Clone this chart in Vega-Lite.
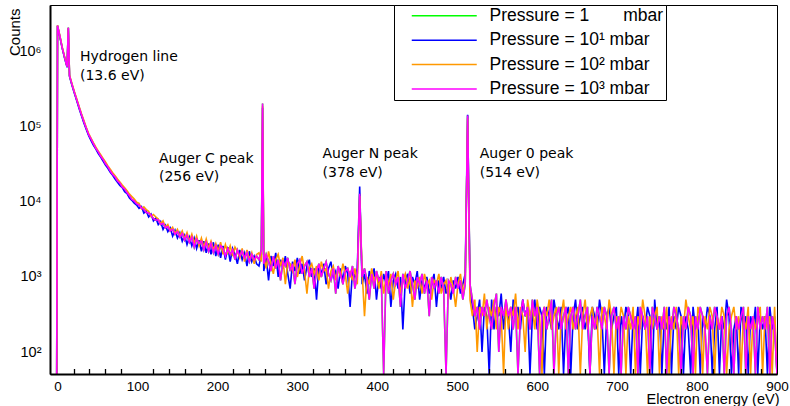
{
  "$schema": "https://vega.github.io/schema/vega-lite/v6.json",
  "width": 727,
  "height": 369,
  "autosize": {"type": "none"},
  "padding": {"left": 50, "top": 5, "right": 13, "bottom": 32},
  "background": "white",
  "config": {"view": {"stroke": "black", "strokeWidth": 1}, "font": "Liberation Sans"},
  "resolve": {"scale": {"x": "independent", "y": "independent"}, "axis": {"x": "independent", "y": "independent"}},
  "datasets": {
    "hist": [
      {"e":-1,"g":0,"b":0,"o":0,"m":0},
      {"e":0,"g":2240000,"b":2200000,"o":2250000,"m":2240000},
      {"e":3,"g":1600000,"b":1570000,"o":1630000,"m":1600000},
      {"e":6,"g":1120000,"b":1100000,"o":1140000,"m":1120000},
      {"e":9,"g":830000,"b":815000,"o":845000,"m":830000},
      {"e":12,"g":630000,"b":620000,"o":640000,"m":630000},
      {"e":13.5,"g":2100000,"b":2050000,"o":2080000,"m":2100000},
      {"e":15,"g":480000,"b":470000,"o":490000,"m":480000},
      {"e":18,"g":370000,"b":362000,"o":378000,"m":370000},
      {"e":21,"g":290000,"b":283000,"o":296000,"m":290000},
      {"e":24,"g":230000,"b":224000,"o":236000,"m":230000},
      {"e":27,"g":182000,"b":176000,"o":187000,"m":182000},
      {"e":30,"g":145000,"b":141000,"o":149000,"m":145000},
      {"e":33,"g":117000,"b":113000,"o":121000,"m":117000},
      {"e":36,"g":95500,"b":92000,"o":98000,"m":95500},
      {"e":39,"g":78500,"b":76500,"o":81500,"m":78500},
      {"e":42,"g":68500,"b":65500,"o":70500,"m":68500},
      {"e":45,"g":59500,"b":56500,"o":61000,"m":59500},
      {"e":48,"g":51500,"b":50500,"o":53500,"m":51500},
      {"e":51,"g":46500,"b":44000,"o":47500,"m":46500},
      {"e":54,"g":40500,"b":39500,"o":42500,"m":40500},
      {"e":57,"g":36800,"b":35000,"o":38000,"m":36800},
      {"e":60,"g":32200,"b":31000,"o":34000,"m":32200},
      {"e":63,"g":29300,"b":28000,"o":30200,"m":29300},
      {"e":66,"g":25800,"b":24800,"o":27200,"m":25800},
      {"e":69,"g":23200,"b":22600,"o":24500,"m":23200},
      {"e":72,"g":21500,"b":20100,"o":22300,"m":21500},
      {"e":75,"g":19000,"b":18300,"o":20200,"m":19000},
      {"e":78,"g":17800,"b":16600,"o":18400,"m":17800},
      {"e":81,"g":15700,"b":15500,"o":16800,"m":15700},
      {"e":84,"g":14800,"b":13700,"o":15400,"m":14800},
      {"e":87,"g":13200,"b":12900,"o":14100,"m":13200},
      {"e":90,"g":12100,"b":11300,"o":12700,"m":12100},
      {"e":93,"g":10800,"b":10500,"o":11800,"m":10800},
      {"e":96,"g":10300,"b":9600,"o":10900,"m":10300},
      {"e":99,"g":9400,"b":9100,"o":9900,"m":9400},
      {"e":102,"g":9100,"b":8200,"o":9600,"m":9100},
      {"e":105,"g":8300,"b":8700,"o":8100,"m":8300},
      {"e":108,"g":8000,"b":7100,"o":8600,"m":8000},
      {"e":111,"g":7200,"b":7600,"o":7900,"m":7200},
      {"e":114,"g":7100,"b":6300,"o":7500,"m":7100},
      {"e":117,"g":6700,"b":6900,"o":6400,"m":6700},
      {"e":120,"g":6000,"b":5600,"o":6800,"m":6000},
      {"e":123,"g":5700,"b":6100,"o":6300,"m":5700},
      {"e":126,"g":5800,"b":5000,"o":5900,"m":5800},
      {"e":129,"g":5000,"b":5500,"o":5100,"m":5000},
      {"e":132,"g":5200,"b":4300,"o":5600,"m":5200},
      {"e":135,"g":4500,"b":4900,"o":4600,"m":4500},
      {"e":138,"g":4700,"b":4000,"o":5000,"m":4700},
      {"e":141,"g":4100,"b":4500,"o":4200,"m":4100},
      {"e":144,"g":4300,"b":3500,"o":4600,"m":4300},
      {"e":147,"g":3700,"b":4200,"o":3800,"m":3700},
      {"e":150,"g":4000,"b":3300,"o":4300,"m":4000},
      {"e":153,"g":3400,"b":3900,"o":3500,"m":3400},
      {"e":156,"g":3800,"b":3000,"o":4100,"m":3800},
      {"e":159,"g":3100,"b":3600,"o":3200,"m":3100},
      {"e":162,"g":3600,"b":2700,"o":3900,"m":3600},
      {"e":165,"g":2900,"b":3400,"o":3000,"m":2900},
      {"e":168,"g":3400,"b":2600,"o":3700,"m":3400},
      {"e":171,"g":2500,"b":3300,"o":2800,"m":2500},
      {"e":174,"g":3200,"b":2400,"o":3500,"m":3200},
      {"e":177,"g":2800,"b":3100,"o":2600,"m":2800},
      {"e":180,"g":3000,"b":2200,"o":3300,"m":3000},
      {"e":183,"g":2300,"b":3000,"o":2500,"m":2300},
      {"e":186,"g":2900,"b":2100,"o":3200,"m":2900},
      {"e":189,"g":2200,"b":2800,"o":2400,"m":2200},
      {"e":192,"g":2800,"b":2000,"o":3000,"m":2800},
      {"e":195,"g":2100,"b":2900,"o":2300,"m":2100},
      {"e":198,"g":2600,"b":1900,"o":2800,"m":2600},
      {"e":201,"g":2000,"b":2700,"o":2200,"m":2000},
      {"e":204,"g":2600,"b":1800,"o":2900,"m":2600},
      {"e":207,"g":2400,"b":2600,"o":2000,"m":2400},
      {"e":210,"g":1900,"b":1700,"o":2700,"m":1900},
      {"e":213,"g":2400,"b":2500,"o":2100,"m":2400},
      {"e":216,"g":2000,"b":1600,"o":2600,"m":2000},
      {"e":219,"g":2300,"b":2400,"o":1900,"m":2300},
      {"e":222,"g":1700,"b":2000,"o":2500,"m":1700},
      {"e":225,"g":2300,"b":1500,"o":2200,"m":2300},
      {"e":228,"g":1900,"b":2300,"o":1800,"m":1900},
      {"e":231,"g":2200,"b":1700,"o":2400,"m":2200},
      {"e":234,"g":1800,"b":2100,"o":1600,"m":1800},
      {"e":237,"g":2100,"b":1400,"o":2300,"m":2100},
      {"e":240,"g":1600,"b":2200,"o":1700,"m":1600},
      {"e":243,"g":2000,"b":1600,"o":2100,"m":2000},
      {"e":246,"g":1700,"b":1900,"o":1500,"m":1700},
      {"e":249,"g":1900,"b":1500,"o":2000,"m":1900},
      {"e":252,"g":1700,"b":1400,"o":2100,"m":1700},
      {"e":255,"g":2300,"b":2000,"o":1600,"m":2300},
      {"e":256.5,"g":204000,"b":180000,"o":190000,"m":204000},
      {"e":258,"g":1500,"b":1200,"o":1900,"m":1500},
      {"e":261,"g":2000,"b":1800,"o":1300,"m":2000},
      {"e":264,"g":1600,"b":900,"o":2200,"m":1600},
      {"e":267,"g":1200,"b":1900,"o":1500,"m":1200},
      {"e":270,"g":1900,"b":1400,"o":1100,"m":1900},
      {"e":273,"g":1300,"b":2100,"o":1700,"m":1300},
      {"e":276,"g":1700,"b":1000,"o":2000,"m":1700},
      {"e":279,"g":900,"b":1700,"o":1400,"m":900},
      {"e":282,"g":1600,"b":1300,"o":1800,"m":1600},
      {"e":285,"g":1400,"b":1900,"o":800,"m":1400},
      {"e":288,"g":1800,"b":1100,"o":1600,"m":1800},
      {"e":291,"g":1200,"b":700,"o":1500,"m":1200},
      {"e":294,"g":1500,"b":1600,"o":1200,"m":1500},
      {"e":297,"g":800,"b":1200,"o":1700,"m":800},
      {"e":300,"g":1500,"b":1800,"o":1000,"m":1500},
      {"e":303,"g":1700,"b":1100,"o":1400,"m":1700},
      {"e":306,"g":1100,"b":1500,"o":1900,"m":1100},
      {"e":309,"g":1400,"b":900,"o":1200,"m":1400},
      {"e":312,"g":1600,"b":1400,"o":600,"m":1600},
      {"e":315,"g":1000,"b":1700,"o":1300,"m":1000},
      {"e":318,"g":1300,"b":1000,"o":1500,"m":1300},
      {"e":321,"g":700,"b":1300,"o":1100,"m":700},
      {"e":324,"g":1200,"b":500,"o":1400,"m":1200},
      {"e":327,"g":1500,"b":1400,"o":900,"m":1500},
      {"e":330,"g":1000,"b":1100,"o":1600,"m":1000},
      {"e":333,"g":1300,"b":1500,"o":1200,"m":1300},
      {"e":336,"g":1600,"b":800,"o":1300,"m":1600},
      {"e":339,"g":1100,"b":1300,"o":700,"m":1100},
      {"e":342,"g":900,"b":1600,"o":1200,"m":900},
      {"e":345,"g":1300,"b":1000,"o":1400,"m":1300},
      {"e":348,"g":600,"b":1200,"o":900,"m":600},
      {"e":351,"g":1400,"b":700,"o":1300,"m":1400},
      {"e":354,"g":1100,"b":1300,"o":1000,"m":1100},
      {"e":357,"g":800,"b":900,"o":1500,"m":800},
      {"e":360,"g":1200,"b":1400,"o":1100,"m":1200},
      {"e":363,"g":1300,"b":1100,"o":600,"m":1300},
      {"e":366,"g":1000,"b":400,"o":1200,"m":1000},
      {"e":369,"g":1400,"b":1200,"o":900,"m":1400},
      {"e":372,"g":700,"b":1000,"o":1300,"m":700},
      {"e":375,"g":1100,"b":1300,"o":800,"m":1100},
      {"e":378,"g":12800,"b":16000,"o":12000,"m":12800},
      {"e":381,"g":1000,"b":800,"o":1200,"m":1000},
      {"e":384,"g":1300,"b":1100,"o":300,"m":1300},
      {"e":387,"g":900,"b":600,"o":1000,"m":900},
      {"e":390,"g":500,"b":1200,"o":800,"m":500},
      {"e":393,"g":1100,"b":900,"o":1300,"m":1100},
      {"e":396,"g":700,"b":1300,"o":900,"m":700},
      {"e":399,"g":1200,"b":500,"o":1100,"m":1200},
      {"e":402,"g":900,"b":1000,"o":700,"m":900},
      {"e":405,"g":1000,"b":700,"o":1200,"m":1000},
      {"e":408,"g":0,"b":1100,"o":600,"m":0},
      {"e":411,"g":1200,"b":800,"o":1000,"m":1200},
      {"e":414,"g":600,"b":1200,"o":800,"m":600},
      {"e":417,"g":900,"b":400,"o":1100,"m":900},
      {"e":420,"g":1100,"b":900,"o":500,"m":1100},
      {"e":423,"g":800,"b":1100,"o":900,"m":800},
      {"e":426,"g":1000,"b":700,"o":1200,"m":1000},
      {"e":429,"g":400,"b":1000,"o":600,"m":400},
      {"e":432,"g":1100,"b":200,"o":900,"m":1100},
      {"e":435,"g":700,"b":900,"o":1100,"m":700},
      {"e":438,"g":900,"b":1100,"o":700,"m":900},
      {"e":441,"g":1200,"b":600,"o":1000,"m":1200},
      {"e":444,"g":800,"b":1000,"o":400,"m":800},
      {"e":447,"g":500,"b":800,"o":900,"m":500},
      {"e":450,"g":1000,"b":1200,"o":700,"m":1000},
      {"e":453,"g":800,"b":500,"o":1000,"m":800},
      {"e":456,"g":1100,"b":900,"o":600,"m":1100},
      {"e":459,"g":600,"b":700,"o":1100,"m":600},
      {"e":462,"g":900,"b":1000,"o":800,"m":900},
      {"e":465,"g":300,"b":600,"o":900,"m":300},
      {"e":468,"g":1000,"b":800,"o":500,"m":1000},
      {"e":471,"g":700,"b":1100,"o":900,"m":700},
      {"e":474,"g":900,"b":400,"o":800,"m":900},
      {"e":477,"g":600,"b":900,"o":1100,"m":600},
      {"e":480,"g":1000,"b":700,"o":600,"m":1000},
      {"e":483,"g":700,"b":1000,"o":800,"m":700},
      {"e":486,"g":0,"b":600,"o":900,"m":0},
      {"e":489,"g":900,"b":800,"o":500,"m":900},
      {"e":492,"g":800,"b":500,"o":1000,"m":800},
      {"e":495,"g":600,"b":900,"o":700,"m":600},
      {"e":498,"g":1000,"b":700,"o":400,"m":1000},
      {"e":501,"g":700,"b":1000,"o":800,"m":700},
      {"e":504,"g":900,"b":600,"o":1100,"m":900},
      {"e":507,"g":500,"b":800,"o":600,"m":500},
      {"e":510,"g":800,"b":1100,"o":900,"m":800},
      {"e":513,"g":142000,"b":145000,"o":130000,"m":142000},
      {"e":516,"g":800,"b":700,"o":500,"m":800},
      {"e":519,"g":500,"b":400,"o":300,"m":500},
      {"e":522,"g":300,"b":200,"o":500,"m":300},
      {"e":525,"g":400,"b":300,"o":100,"m":400},
      {"e":528,"g":200,"b":500,"o":400,"m":200},
      {"e":531,"g":400,"b":100,"o":300,"m":400},
      {"e":534,"g":300,"b":400,"o":600,"m":300},
      {"e":537,"g":500,"b":300,"o":200,"m":500},
      {"e":540,"g":300,"b":0,"o":400,"m":300},
      {"e":543,"g":200,"b":500,"o":300,"m":200},
      {"e":546,"g":400,"b":200,"o":500,"m":400},
      {"e":549,"g":600,"b":400,"o":200,"m":600},
      {"e":552,"g":100,"b":300,"o":400,"m":100},
      {"e":555,"g":400,"b":600,"o":300,"m":400},
      {"e":558,"g":300,"b":200,"o":0,"m":300},
      {"e":561,"g":500,"b":400,"o":500,"m":500},
      {"e":564,"g":300,"b":300,"o":200,"m":300},
      {"e":567,"g":400,"b":100,"o":400,"m":400},
      {"e":570,"g":200,"b":500,"o":300,"m":200},
      {"e":573,"g":400,"b":300,"o":600,"m":400},
      {"e":576,"g":0,"b":400,"o":200,"m":0},
      {"e":579,"g":300,"b":200,"o":400,"m":300},
      {"e":582,"g":500,"b":500,"o":300,"m":500},
      {"e":585,"g":300,"b":300,"o":100,"m":300},
      {"e":588,"g":400,"b":400,"o":500,"m":400},
      {"e":591,"g":200,"b":0,"o":300,"m":200},
      {"e":594,"g":500,"b":300,"o":400,"m":500},
      {"e":597,"g":300,"b":500,"o":200,"m":300},
      {"e":600,"g":400,"b":200,"o":500,"m":400},
      {"e":603,"g":0,"b":400,"o":300,"m":0},
      {"e":606,"g":300,"b":300,"o":0,"m":300},
      {"e":609,"g":400,"b":0,"o":400,"m":400},
      {"e":612,"g":200,"b":400,"o":300,"m":200},
      {"e":615,"g":300,"b":300,"o":500,"m":300},
      {"e":618,"g":500,"b":200,"o":200,"m":500},
      {"e":621,"g":0,"b":500,"o":300,"m":0},
      {"e":624,"g":300,"b":300,"o":400,"m":300},
      {"e":627,"g":400,"b":200,"o":0,"m":400},
      {"e":630,"g":200,"b":400,"o":300,"m":200},
      {"e":633,"g":300,"b":0,"o":500,"m":300},
      {"e":636,"g":400,"b":300,"o":200,"m":400},
      {"e":639,"g":0,"b":400,"o":300,"m":0},
      {"e":642,"g":300,"b":0,"o":400,"m":300},
      {"e":645,"g":400,"b":300,"o":200,"m":400},
      {"e":648,"g":200,"b":500,"o":300,"m":200},
      {"e":651,"g":300,"b":200,"o":400,"m":300},
      {"e":654,"g":500,"b":300,"o":0,"m":500},
      {"e":657,"g":200,"b":400,"o":300,"m":200},
      {"e":660,"g":300,"b":200,"o":500,"m":300},
      {"e":663,"g":400,"b":300,"o":200,"m":400},
      {"e":666,"g":0,"b":0,"o":300,"m":0},
      {"e":669,"g":300,"b":400,"o":400,"m":300},
      {"e":672,"g":200,"b":300,"o":200,"m":200},
      {"e":675,"g":400,"b":200,"o":300,"m":400},
      {"e":678,"g":300,"b":500,"o":0,"m":300},
      {"e":681,"g":200,"b":300,"o":400,"m":200},
      {"e":684,"g":400,"b":0,"o":300,"m":400},
      {"e":687,"g":300,"b":300,"o":200,"m":300},
      {"e":690,"g":0,"b":400,"o":500,"m":0},
      {"e":693,"g":300,"b":200,"o":300,"m":300},
      {"e":696,"g":400,"b":300,"o":0,"m":400},
      {"e":699,"g":200,"b":400,"o":300,"m":200},
      {"e":702,"g":300,"b":0,"o":200,"m":300},
      {"e":705,"g":0,"b":300,"o":400,"m":0},
      {"e":708,"g":300,"b":200,"o":300,"m":300},
      {"e":711,"g":200,"b":400,"o":0,"m":200},
      {"e":714,"g":400,"b":300,"o":300,"m":400},
      {"e":717,"g":300,"b":0,"o":200,"m":300},
      {"e":720,"g":200,"b":300,"o":400,"m":200},
      {"e":723,"g":300,"b":200,"o":0,"m":300},
      {"e":726,"g":0,"b":400,"o":300,"m":0},
      {"e":729,"g":400,"b":0,"o":200,"m":400},
      {"e":732,"g":300,"b":300,"o":500,"m":300},
      {"e":735,"g":200,"b":200,"o":300,"m":200},
      {"e":738,"g":300,"b":400,"o":0,"m":300},
      {"e":741,"g":0,"b":300,"o":300,"m":0},
      {"e":744,"g":400,"b":0,"o":200,"m":400},
      {"e":747,"g":300,"b":500,"o":300,"m":300},
      {"e":750,"g":200,"b":200,"o":400,"m":200},
      {"e":753,"g":300,"b":300,"o":0,"m":300},
      {"e":756,"g":200,"b":0,"o":300,"m":200},
      {"e":759,"g":400,"b":300,"o":200,"m":400},
      {"e":762,"g":0,"b":200,"o":400,"m":0},
      {"e":765,"g":300,"b":400,"o":0,"m":300},
      {"e":768,"g":200,"b":0,"o":300,"m":200},
      {"e":771,"g":400,"b":300,"o":200,"m":400},
      {"e":774,"g":300,"b":200,"o":400,"m":300},
      {"e":777,"g":200,"b":400,"o":0,"m":200},
      {"e":780,"g":0,"b":300,"o":300,"m":0},
      {"e":783,"g":300,"b":0,"o":200,"m":300},
      {"e":786,"g":200,"b":300,"o":500,"m":200},
      {"e":789,"g":400,"b":200,"o":300,"m":400},
      {"e":792,"g":300,"b":0,"o":200,"m":300},
      {"e":795,"g":0,"b":400,"o":300,"m":0},
      {"e":798,"g":300,"b":200,"o":0,"m":300},
      {"e":801,"g":200,"b":300,"o":400,"m":200},
      {"e":804,"g":400,"b":0,"o":300,"m":400},
      {"e":807,"g":300,"b":300,"o":0,"m":300},
      {"e":810,"g":200,"b":200,"o":300,"m":200},
      {"e":813,"g":0,"b":400,"o":200,"m":0},
      {"e":816,"g":300,"b":300,"o":400,"m":300},
      {"e":819,"g":200,"b":0,"o":300,"m":200},
      {"e":822,"g":400,"b":200,"o":0,"m":400},
      {"e":825,"g":300,"b":400,"o":300,"m":300},
      {"e":828,"g":200,"b":0,"o":200,"m":200},
      {"e":831,"g":300,"b":300,"o":400,"m":300},
      {"e":834,"g":0,"b":200,"o":300,"m":0},
      {"e":837,"g":300,"b":500,"o":0,"m":300},
      {"e":840,"g":400,"b":300,"o":200,"m":400},
      {"e":843,"g":200,"b":0,"o":300,"m":200},
      {"e":846,"g":0,"b":200,"o":400,"m":0},
      {"e":849,"g":300,"b":300,"o":200,"m":300},
      {"e":852,"g":200,"b":0,"o":300,"m":200},
      {"e":855,"g":300,"b":400,"o":0,"m":300},
      {"e":858,"g":400,"b":200,"o":300,"m":400},
      {"e":861,"g":0,"b":300,"o":200,"m":0},
      {"e":864,"g":300,"b":0,"o":400,"m":300},
      {"e":867,"g":200,"b":300,"o":0,"m":200},
      {"e":870,"g":300,"b":200,"o":300,"m":300},
      {"e":873,"g":0,"b":400,"o":200,"m":0},
      {"e":876,"g":400,"b":0,"o":300,"m":400},
      {"e":879,"g":200,"b":300,"o":400,"m":200},
      {"e":882,"g":300,"b":200,"o":0,"m":300},
      {"e":885,"g":200,"b":300,"o":300,"m":200},
      {"e":888,"g":400,"b":0,"o":200,"m":400},
      {"e":891,"g":0,"b":400,"o":300,"m":0},
      {"e":894,"g":300,"b":200,"o":0,"m":300},
      {"e":897,"g":200,"b":300,"o":400,"m":200},
      {"e":900,"g":0,"b":0,"o":0,"m":0}
    ],
    "notes": [
      {"e":28.1,"c":748000,"t":"Hydrogen line\n(13.6 eV)"},
      {"e":126.9,"c":33400,"t":"Auger C peak\n(256 eV)"},
      {"e":331.5,"c":38300,"t":"Auger N peak\n(378 eV)"},
      {"e":528.1,"c":38300,"t":"Auger 0 peak\n(514 eV)"}
    ]
  },
  "data": {"name": "hist"},
  "layer": [
    {
      "mark": {"type": "line", "interpolate": "linear", "strokeWidth": 1.6, "clip": true, "invalid": "show"},
      "encoding": {
        "x": {
          "field": "e", "type": "quantitative",
          "scale": {"domain": [-9.4, 900], "nice": false, "zero": false},
          "axis": {
            "orient": "bottom", "zindex": 1,
            "title": "Electron energy (eV)",
            "titleFont": "Liberation Sans", "titleFontSize": 14.5, "titleFontWeight": "normal", "titleColor": "black",
            "titleAnchor": null, "titleX": 729, "titleY": 29.7, "titleAlign": "right", "titleBaseline": "alphabetic",
            "values": [0,100,200,300,400,500,600,700,800,900],
            "labelFont": "Liberation Sans", "labelFontSize": 13.5, "labelColor": "black",
            "labelOverlap": false, "labelFlush": false, "labelBaseline": "top",
            "labelPadding": 5, "ticks": true, "tickSize": 0.01, "tickColor": "black", "tickWidth": 1.3,
            "domainColor": "black", "domainWidth": 2, "grid": false,
            "encode": {"ticks": {"update": {"y": {"value": 0}, "y2": {"value": -11}, "stroke": {"value": "black"}, "strokeOpacity": {"value": 1}, "opacity": {"value": 1}, "strokeWidth": {"value": 1.3}, "strokeDash": {"value": [1, 0]}}}}
          }
        },
        "y": {
          "field": "g", "type": "quantitative", "title": "Counts",
          "scale": {"type": "log", "domain": [51, 4200000], "nice": false, "clamp": true},
          "axis": {
            "orient": "left", "zindex": 1,
            "titleFont": "Liberation Sans", "titleFontSize": 15, "titleFontWeight": "normal", "titleColor": "black",
            "titleAnchor": null, "titleAngle": -90, "titleX": -31, "titleY": 3, "titleAlign": "right", "titleBaseline": "alphabetic",
            "values": [60,70,80,90,100,200,300,400,500,600,700,800,900,1000,2000,3000,4000,5000,6000,7000,8000,9000,10000,20000,30000,40000,50000,60000,70000,80000,90000,100000,200000,300000,400000,500000,600000,700000,800000,900000,1000000,2000000,3000000,4000000],
            "labelExpr": "datum.value == 100 ? '10²' : datum.value == 1000 ? '10³' : datum.value == 10000 ? '10⁴' : datum.value == 100000 ? '10⁵' : datum.value == 1000000 ? '10⁶' : ''",
            "labelFont": "Liberation Sans", "labelFontSize": 14.5, "labelColor": "black",
            "labelOverlap": false, "labelFlush": false, "labelPadding": 9,
            "ticks": true, "tickSize": 0.01, "tickColor": "black", "tickWidth": 1.3,
            "domainColor": "black", "domainWidth": 2, "grid": false,
            "encode": {"ticks": {"update": {"x": {"value": 0}, "x2": {"signal": "indexof([100,1000,10000,100000,1000000], datum.value) >= 0 ? 20 : 10"}, "stroke": {"value": "black"}, "strokeOpacity": {"value": 1}, "opacity": {"value": 1}, "strokeWidth": {"value": 1.3}, "strokeDash": {"value": [1, 0]}}}}
          }
        },
        "color": {
          "datum": "Pressure = 1\u00a0\u00a0\u00a0\u00a0\u00a0\u00a0\u00a0mbar",
          "scale": {
            "domain": ["Pressure = 1\u00a0\u00a0\u00a0\u00a0\u00a0\u00a0\u00a0mbar", "Pressure = 10¹ mbar", "Pressure = 10² mbar", "Pressure = 10³ mbar"],
            "range": ["#00ff00", "#0000ff", "#ff9900", "#ff00ff"]
          },
          "legend": {
            "title": null, "orient": "none", "legendX": 344, "legendY": 0, "zindex": 2,
            "strokeColor": "black", "fillColor": "white", "padding": 2, "cornerRadius": 0,
            "symbolType": "M-6.5,0H6.5", "symbolSize": 100, "symbolStrokeWidth": 1.5,
            "symbolOffset": 39.5, "labelOffset": 36.5,
            "labelFont": "Liberation Sans", "labelFontSize": 17.5, "labelColor": "black", "labelLimit": 600,
            "labelExpr": "datum.label + '\u00a0\u00a0\u00a0\u00a0\u00a0\u00a0\u00a0\u00a0\u00a0\u00a0\u00a0\u00a0\u00a0\u00a0\u00a0\u00a0\u00a0\u00a0\u00a0\u00a0\u00a0\u00a0\u00a0\u00a0\u00a0\u00a0'",
            "rowPadding": 5.4
          }
        }
      }
    },
    {
      "mark": {"type": "line", "interpolate": "linear", "strokeWidth": 1.6, "clip": true, "invalid": "show"},
      "encoding": {
        "x": {
          "field": "e", "type": "quantitative",
          "scale": {"domain": [-9.4, 900], "nice": false, "zero": false},
          "axis": {"orient": "top", "offset": -369, "zindex": 1, "values": [20,40,60,80,120,140,160,180,220,240,260,280,320,340,360,380,420,440,460,480,520,540,560,580,620,640,660,680,720,740,760,780,820,840,860,880], "labels": false, "domain": false, "grid": false, "title": null, "ticks": true, "tickSize": 5.5, "tickColor": "black", "tickWidth": 1.3,
            "encode": {"ticks": {"update": {"y": {"value": 0}, "y2": {"value": -5.5}, "stroke": {"value": "black"}, "strokeOpacity": {"value": 1}, "opacity": {"value": 1}, "strokeWidth": {"value": 1.3}}}}}
        },
        "y": {"field": "b", "type": "quantitative", "scale": {"type": "log", "domain": [51, 4200000], "nice": false, "clamp": true}, "axis": null},
        "color": {"datum": "Pressure = 10¹ mbar"}
      }
    },
    {
      "mark": {"type": "line", "interpolate": "linear", "strokeWidth": 1.6, "clip": true, "invalid": "show"},
      "encoding": {
        "x": {"field": "e", "type": "quantitative", "scale": {"domain": [-9.4, 900], "nice": false, "zero": false}, "axis": null},
        "y": {"field": "o", "type": "quantitative", "scale": {"type": "log", "domain": [51, 4200000], "nice": false, "clamp": true}, "axis": null},
        "color": {"datum": "Pressure = 10² mbar"}
      }
    },
    {
      "mark": {"type": "line", "interpolate": "linear", "strokeWidth": 1.6, "clip": true, "invalid": "show"},
      "encoding": {
        "x": {"field": "e", "type": "quantitative", "scale": {"domain": [-9.4, 900], "nice": false, "zero": false}, "axis": null},
        "y": {"field": "m", "type": "quantitative", "scale": {"type": "log", "domain": [51, 4200000], "nice": false, "clamp": true}, "axis": null},
        "color": {"datum": "Pressure = 10³ mbar"}
      }
    },
    {
      "data": {"name": "notes"},
      "mark": {"type": "text", "align": "left", "baseline": "alphabetic", "font": "DejaVu Sans", "fontSize": 14, "lineBreak": "\n", "lineHeight": 18.5, "color": "black"},
      "encoding": {
        "x": {"field": "e", "type": "quantitative", "scale": {"domain": [-9.4, 900], "nice": false, "zero": false}, "axis": null},
        "y": {"field": "c", "type": "quantitative", "scale": {"type": "log", "domain": [51, 4200000], "nice": false}, "axis": null},
        "text": {"field": "t"}
      }
    }
  ]
}
